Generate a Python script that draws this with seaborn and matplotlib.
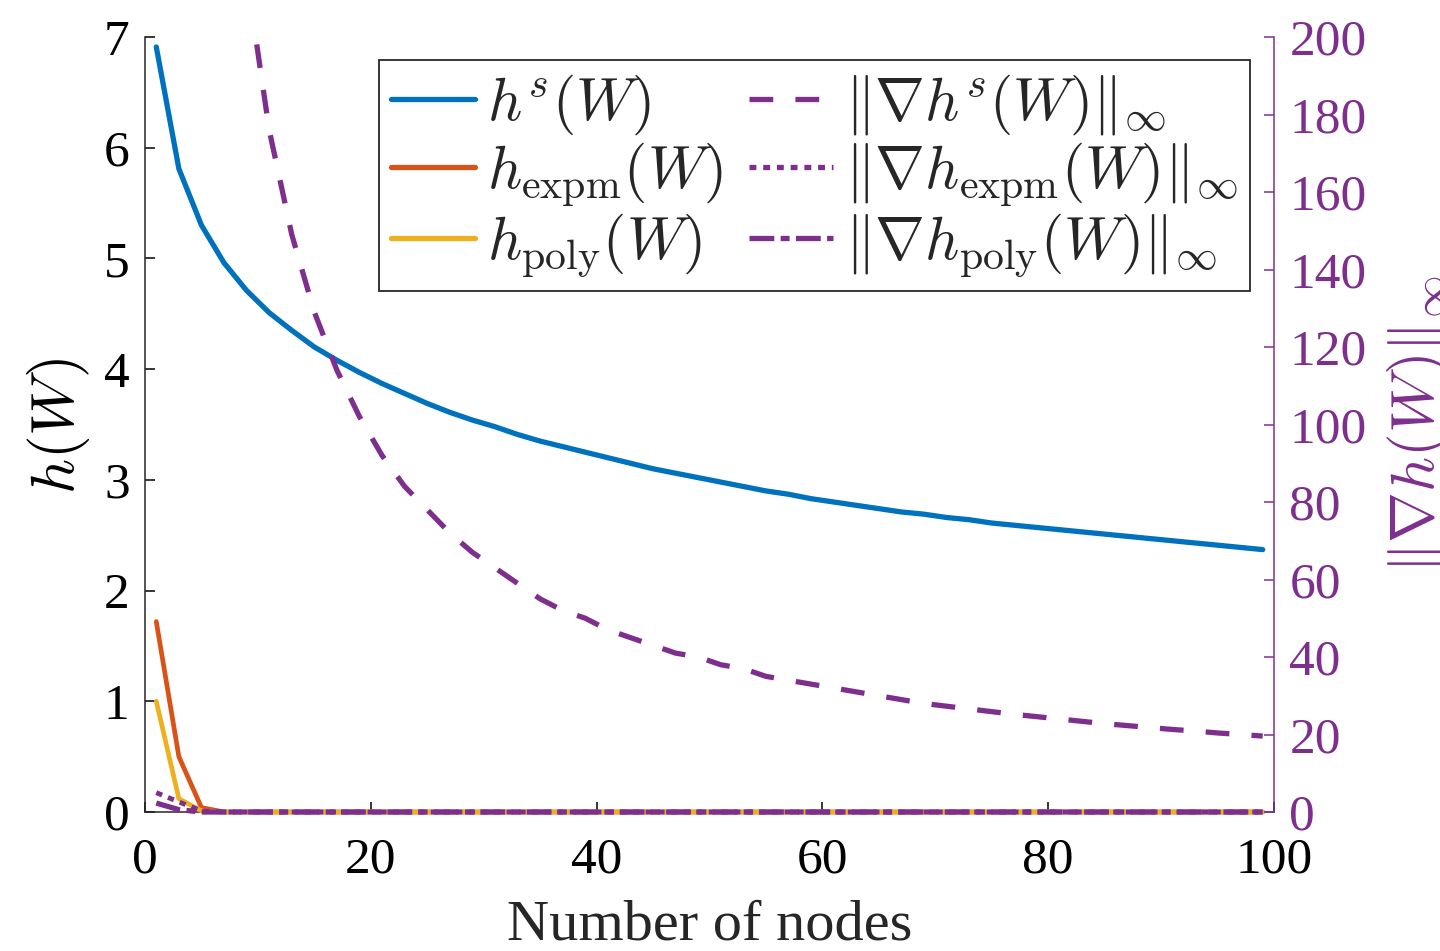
import numpy as np
import pandas as pd
import matplotlib
matplotlib.use("Agg")
import matplotlib.pyplot as plt
import seaborn as sns

# Problem sizes (number of nodes)
nodes = list(range(1, 100, 2))

# Acyclicity function values (left axis)
h_s = [6.91, 5.81, 5.30, 4.96, 4.71, 4.51, 4.35, 4.20, 4.08, 3.97,
       3.87, 3.78, 3.69, 3.61, 3.54, 3.48, 3.41, 3.35, 3.30, 3.25,
       3.20, 3.15, 3.10, 3.06, 3.02, 2.98, 2.94, 2.90, 2.87, 2.83,
       2.80, 2.77, 2.74, 2.71, 2.69, 2.66, 2.64, 2.61, 2.59, 2.57,
       2.55, 2.53, 2.51, 2.49, 2.47, 2.45, 2.43, 2.41, 2.39, 2.37]
h_expm = [1.72, 0.50, 0.04] + [0.0] * 47
h_poly = [1.00, 0.12, 0.01] + [0.0] * 47

# Gradient infinity norms (right axis)
grad_nodes = list(range(9, 100, 2))
grad_h_s = [216, 176, 149, 129, 114, 102, 92, 84, 78, 72,
            67, 63, 59, 55, 52, 50, 47, 45, 43, 41,
            40, 38, 37, 35, 34, 33, 32, 31, 30, 29,
            28, 27.3, 26.6, 25.9, 25.2, 24.6, 24.0, 23.4, 22.8, 22.3,
            21.8, 21.3, 20.9, 20.4, 20.0, 19.6]
grad_expm = [5.0, 2.6, 0.3] + [0.0] * 47
grad_poly = [2.3, 0.6, 0.0] + [0.0] * 47

x_ticks = [0, 20, 40, 60, 80, 100]
left_ticks = [0, 1, 2, 3, 4, 5, 6, 7]
right_ticks = [0, 20, 40, 60, 80, 100, 120, 140, 160, 180, 200]

BLUE = "#0072BD"
ORANGE = "#D95319"
YELLOW = "#EDB120"
PURPLE = "#7E2F8E"

sns.set_theme(style="ticks")
plt.rcParams["font.family"] = ["Liberation Serif", "DejaVu Serif"]
plt.rcParams["mathtext.fontset"] = "cm"
plt.rcParams["axes.linewidth"] = 1.1

fig = plt.figure(figsize=(14.4, 9.51), dpi=100)
ax = fig.add_axes([145 / 1440, 1 - 812 / 951, (1274 - 145) / 1440, (812 - 37) / 951])
ax2 = ax.twinx()

left_df = pd.DataFrame({"n": nodes, "hs": h_s, "hexpm": h_expm, "hpoly": h_poly})
grad_df = pd.DataFrame({"n": grad_nodes, "g": grad_h_s})
grad0_df = pd.DataFrame({"n": nodes, "ge": grad_expm, "gp": grad_poly})

sns.lineplot(data=left_df, x="n", y="hs", ax=ax, color=BLUE, lw=3.8,
             label=r"$h^s(W)$", legend=False)
sns.lineplot(data=left_df, x="n", y="hexpm", ax=ax, color=ORANGE, lw=3.4,
             label=r"$h_{\rm expm}(W)$", legend=False)
sns.lineplot(data=left_df, x="n", y="hpoly", ax=ax, color=YELLOW, lw=3.4,
             label=r"$h_{\rm poly}(W)$", legend=False)

sns.lineplot(data=grad_df, x="n", y="g", ax=ax2, color=PURPLE, lw=3.8,
             linestyle=(0, (4.5, 4.2)),
             label=r"$\|\nabla h^s(W)\|_\infty$", legend=False)
sns.lineplot(data=grad0_df, x="n", y="ge", ax=ax2, color=PURPLE, lw=3.5,
             linestyle=(0, (1.3, 1.3)),
             label=r"$\|\nabla h_{\rm expm}(W)\|_\infty$", legend=False)
sns.lineplot(data=grad0_df, x="n", y="gp", ax=ax2, color=PURPLE, lw=3.8,
             linestyle=(0, (4.7, 1.2, 1.7, 1.2)),
             label=r"$\|\nabla h_{\rm poly}(W)\|_\infty$", legend=False)

# Curves that settle on zero are drawn in full width over the baseline
for line in ax.get_lines()[1:]:
    line.set_clip_on(False)
    line.set_zorder(3)
for line in ax2.get_lines()[1:]:
    line.set_clip_on(False)
    line.set_zorder(3)

ax.set_xlim(0, 100)
ax.set_ylim(0, 7)
ax2.set_ylim(0, 200)
ax.set_xticks(x_ticks)
ax.set_yticks(left_ticks)
ax2.set_yticks(right_ticks)
ax.set_xticklabels([str(t) for t in x_ticks])
ax.set_yticklabels([str(t) for t in left_ticks])
ax2.set_yticklabels([str(t) for t in right_ticks])

ax.tick_params(axis="both", direction="in", length=7, width=1.1,
               labelsize=37, colors="black")
ax.tick_params(axis="x", pad=18)
ax.tick_params(axis="y", pad=11)
ax2.tick_params(axis="y", direction="in", length=7, width=1.1,
                labelsize=37, colors=PURPLE, pad=11)

for s in ("top", "right"):
    ax.spines[s].set_visible(False)
ax2.spines["top"].set_visible(False)
ax2.spines["left"].set_visible(False)
ax2.spines["bottom"].set_visible(False)
ax2.spines["right"].set_color(PURPLE)
ax.spines["left"].set_color("#262626")
ax.spines["bottom"].set_color("#262626")

ax.set_xlabel("Number of nodes", fontsize=42, color="#262626")
ax.xaxis.set_label_coords(0.5, -0.165)
ax.xaxis.label.set_va("baseline")

ax.set_ylabel(r"$h(W)$", fontsize=44, color="black")
ax.yaxis.set_label_coords(-0.077, 0.498)
ax.yaxis.label.set_va("center")

ax2.set_ylabel(r"$\|\nabla h(W)\|_\infty$", fontsize=44, color=PURPLE)
ax2.yaxis.set_label_coords(1.128, 0.5)
ax2.yaxis.label.set_va("center")

handles1, labels1 = ax.get_legend_handles_labels()
handles2, labels2 = ax2.get_legend_handles_labels()
leg = ax2.legend(handles1 + handles2, labels1 + labels2, ncol=2,
                 loc="upper right", bbox_to_anchor=(1250 / 1440, 1 - 60 / 951),
                 bbox_transform=fig.transFigure, borderaxespad=0,
                 fontsize=43, frameon=True, fancybox=False, framealpha=1,
                 edgecolor="#262626", handlelength=1.4, handletextpad=0.2,
                 columnspacing=0.45, labelspacing=0.06, borderpad=0.2)
leg.get_frame().set_linewidth(1.3)
leg.set_zorder(5)
for line in leg.get_lines():
    line.set_linewidth(3.8)

fig.savefig("out.png", dpi=100)
